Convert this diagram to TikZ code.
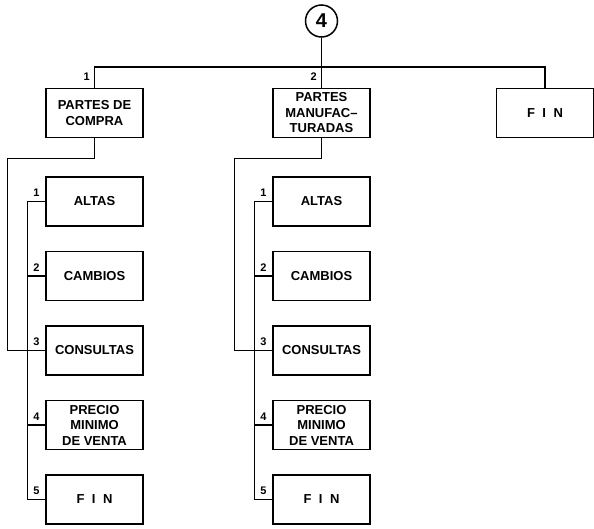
\documentclass[tikz,border=0pt]{standalone}
\usepackage{fontspec}
\setmainfont{Liberation Sans}
\usetikzlibrary{positioning, calc}
\newcommand{\finlbl}{F\hspace{0.3em} I\hspace{0.3em} N}
\tikzset{
  menubox/.style={draw, line width=1.5pt, minimum width=97pt, minimum height=49pt, inner sep=2pt, align=center, font=\bfseries\fontsize{13}{15.5}\selectfont},
  menucirc/.style={draw, circle, line width=1.5pt, minimum size=32pt, inner sep=0pt, font=\bfseries\fontsize{20}{20}\selectfont},
  numlbl/.style={inner sep=0.5pt, font=\bfseries\fontsize{11}{11}\selectfont},
  link/.style={line width=1.5pt}
}

\begin{document}
\begin{tikzpicture}[x=1pt, y=-1pt, node distance=24pt]
  \useasboundingbox (0,0) rectangle (594,528);
  % main menu
  \node[menucirc] (menu) at (321.5,21) {4};
  \node[menubox] (compra) at (94.5,113) {PARTES DE\\COMPRA};
  \node[menubox] (manuf) at (321.5,113) {PARTES\\MANUFAC--\\TURADAS};
  \node[menubox] (fin) at (545,113) {\finlbl};
  \coordinate (bus) at (0,67);
  \draw[link] (menu) -- (manuf);
  \draw[link] (compra.north) |- (fin.north |- bus) -- (fin.north);
  \node[numlbl, anchor=east] (compran) at ($(compra.north)+(-4,-11)$) {1};
  \node[numlbl, anchor=east] (manufn) at ($(manuf.north)+(-4,-11)$) {2};

  % partes de compra
  \node[menubox, below=38pt of compra] (altas1) {ALTAS};
  \node[menubox, below=of altas1] (cambios1) {CAMBIOS};
  \node[menubox, below=of cambios1] (consultas1) {CONSULTAS};
  \node[menubox, below=of consultas1] (precio1) {PRECIO\\MINIMO\\DE VENTA};
  \node[menubox, below=of precio1] (fin1) {\finlbl};
  \coordinate (out1) at ($(compra.south west)+(-38,20)$);
  \coordinate (spine1) at ($(altas1.west)+(-18,0)$);
  \draw[link] (compra.south) |- (out1) |- (consultas1.west);
  \draw[link] (altas1.west) -- (spine1) |- (fin1.west);
  \draw[link] (cambios1.west) -- (cambios1.west -| spine1);
  \draw[link] (precio1.west) -- (precio1.west -| spine1);
  \node[numlbl, anchor=south east] (altas1n) at ($(altas1.west)+(-5,-4)$) {1};
  \node[numlbl, anchor=south east] (cambios1n) at ($(cambios1.west)+(-5,-4)$) {2};
  \node[numlbl, anchor=south east] (consultas1n) at ($(consultas1.west)+(-5,-4)$) {3};
  \node[numlbl, anchor=south east] (precio1n) at ($(precio1.west)+(-5,-4)$) {4};
  \node[numlbl, anchor=south east] (fin1n) at ($(fin1.west)+(-5,-4)$) {5};

  % partes manufacturadas
  \node[menubox, below=38pt of manuf] (altas2) {ALTAS};
  \node[menubox, below=of altas2] (cambios2) {CAMBIOS};
  \node[menubox, below=of cambios2] (consultas2) {CONSULTAS};
  \node[menubox, below=of consultas2] (precio2) {PRECIO\\MINIMO\\DE VENTA};
  \node[menubox, below=of precio2] (fin2) {\finlbl};
  \coordinate (out2) at ($(manuf.south west)+(-38,20)$);
  \coordinate (spine2) at ($(altas2.west)+(-18,0)$);
  \draw[link] (manuf.south) |- (out2) |- (consultas2.west);
  \draw[link] (altas2.west) -- (spine2) |- (fin2.west);
  \draw[link] (cambios2.west) -- (cambios2.west -| spine2);
  \draw[link] (precio2.west) -- (precio2.west -| spine2);
  \node[numlbl, anchor=south east] (altas2n) at ($(altas2.west)+(-5,-4)$) {1};
  \node[numlbl, anchor=south east] (cambios2n) at ($(cambios2.west)+(-5,-4)$) {2};
  \node[numlbl, anchor=south east] (consultas2n) at ($(consultas2.west)+(-5,-4)$) {3};
  \node[numlbl, anchor=south east] (precio2n) at ($(precio2.west)+(-5,-4)$) {4};
  \node[numlbl, anchor=south east] (fin2n) at ($(fin2.west)+(-5,-4)$) {5};
\end{tikzpicture}
\end{document}
